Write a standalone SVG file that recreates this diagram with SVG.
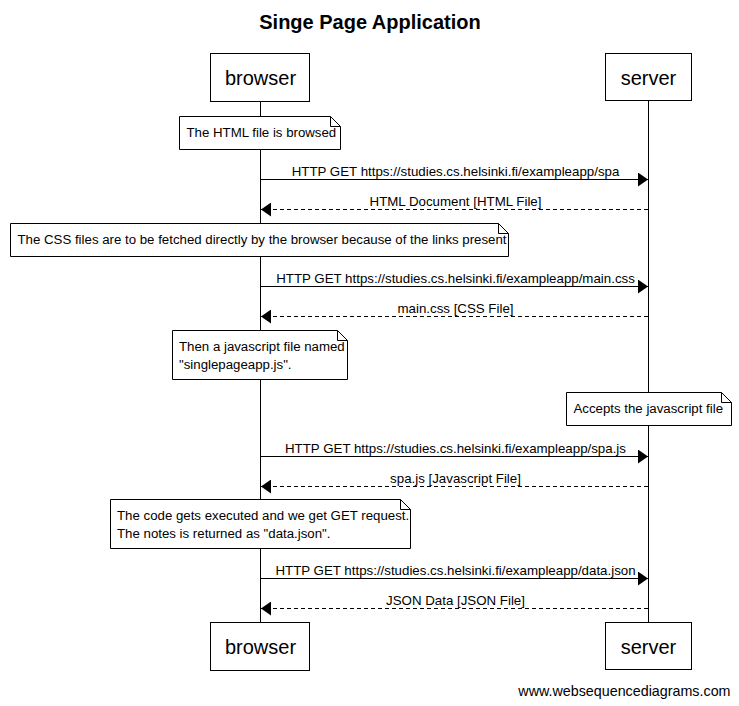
<svg xmlns="http://www.w3.org/2000/svg" width="739" height="706" viewBox="0 0 739 706">
<style>
text{font-family:"Liberation Sans",Arial,sans-serif;fill:#000}
.title{font-size:20px;font-weight:bold;text-anchor:middle}
.actor rect{fill:#fff;stroke:#000;stroke-width:1}
.actor text{font-size:20px;text-anchor:middle}
.note polygon{fill:#fff;stroke:#000;stroke-width:1}
.note path{fill:none;stroke:#000;stroke-width:1}
.note text{font-size:13.25px}
.life{stroke:#000;stroke-width:1}
.msg{stroke:#000;stroke-width:1;fill:none}
.dash{stroke-dasharray:4,3}
.lbl{font-size:13.3px;text-anchor:middle}
.foot{font-size:14.3px;text-anchor:end}
</style>
<defs>
<marker id="ah" viewBox="0 0 10 14" refX="10" refY="7" markerWidth="10" markerHeight="14" markerUnits="userSpaceOnUse" orient="auto">
<path d="M0,0 L10,7 L0,14 Z" fill="#000"/>
</marker>
</defs>
<rect width="739" height="706" fill="#fff"/>
<text class="title" x="370" y="29">Singe Page Application</text>

<g id="lifelines">
<line class="life" x1="260.5" y1="102" x2="260.5" y2="622"/>
<line class="life" x1="648.5" y1="101" x2="648.5" y2="622"/>
</g>

<g id="browser-top" class="actor"><rect x="210.5" y="53.5" width="99" height="48"/><text x="260.5" y="85">browser</text></g>
<g id="server-top" class="actor"><rect x="605.5" y="53.5" width="86" height="47"/><text x="648.5" y="85">server</text></g>

<g id="note1" class="note"><polygon points="179.5,116.5 330.5,116.5 340.5,126.5 340.5,149.5 179.5,149.5"/><path d="M330.5,116.5 V126.5 H340.5"/><text x="186.5" y="136.5">The HTML file is browsed</text></g>
<g id="note2" class="note"><polygon points="10.5,223.5 498.5,223.5 508.5,233.5 508.5,256.5 10.5,256.5"/><path d="M498.5,223.5 V233.5 H508.5"/><text x="17.5" y="243.5">The CSS files are to be fetched directly by the browser because of the links present</text></g>
<g id="note3" class="note"><polygon points="172.5,330.5 337.5,330.5 347.5,340.5 347.5,379.5 172.5,379.5"/><path d="M337.5,330.5 V340.5 H347.5"/><text x="179" y="351">Then a javascript file named</text><text x="179" y="369">"singlepageapp.js".</text></g>
<g id="note4" class="note"><polygon points="566.5,392.5 721.5,392.5 731.5,402.5 731.5,425.5 566.5,425.5"/><path d="M721.5,392.5 V402.5 H731.5"/><text x="573.5" y="412.5">Accepts the javascript file</text></g>
<g id="note5" class="note"><polygon points="110.5,499.5 400.5,499.5 410.5,509.5 410.5,548.5 110.5,548.5"/><path d="M400.5,499.5 V509.5 H410.5"/><text x="117" y="520">The code gets executed and we get GET request.</text><text x="117" y="538">The notes is returned as "data.json".</text></g>

<g id="connectors">
<line class="msg" x1="261" y1="179.5" x2="648" y2="179.5" marker-end="url(#ah)"/>
<line class="msg dash" x1="648" y1="209.5" x2="261" y2="209.5" marker-end="url(#ah)"/>
<line class="msg" x1="261" y1="286.5" x2="648" y2="286.5" marker-end="url(#ah)"/>
<line class="msg dash" x1="648" y1="316.5" x2="261" y2="316.5" marker-end="url(#ah)"/>
<line class="msg" x1="261" y1="456.5" x2="648" y2="456.5" marker-end="url(#ah)"/>
<line class="msg dash" x1="648" y1="486.5" x2="261" y2="486.5" marker-end="url(#ah)"/>
<line class="msg" x1="261" y1="578.5" x2="648" y2="578.5" marker-end="url(#ah)"/>
<line class="msg dash" x1="648" y1="608.5" x2="261" y2="608.5" marker-end="url(#ah)"/>
<text class="lbl" x="455.5" y="175.5">HTTP GET https://studies.cs.helsinki.fi/exampleapp/spa</text>
<text class="lbl" x="455.5" y="205.5">HTML Document [HTML File]</text>
<text class="lbl" x="455.5" y="282.5">HTTP GET https://studies.cs.helsinki.fi/exampleapp/main.css</text>
<text class="lbl" x="455.5" y="312.5">main.css [CSS File]</text>
<text class="lbl" x="455.5" y="452.5">HTTP GET https://studies.cs.helsinki.fi/exampleapp/spa.js</text>
<text class="lbl" x="455.5" y="482.5">spa.js [Javascript File]</text>
<text class="lbl" x="455.5" y="574.5">HTTP GET https://studies.cs.helsinki.fi/exampleapp/data.json</text>
<text class="lbl" x="455.5" y="604.5">JSON Data [JSON File]</text>
</g>

<g id="browser-bottom" class="actor"><rect x="210.5" y="622.5" width="99" height="48"/><text x="260.5" y="654">browser</text></g>
<g id="server-bottom" class="actor"><rect x="605.5" y="622.5" width="86" height="47"/><text x="648.5" y="654">server</text></g>

<text class="foot" x="730.5" y="695.5">www.websequencediagrams.com</text>
</svg>
